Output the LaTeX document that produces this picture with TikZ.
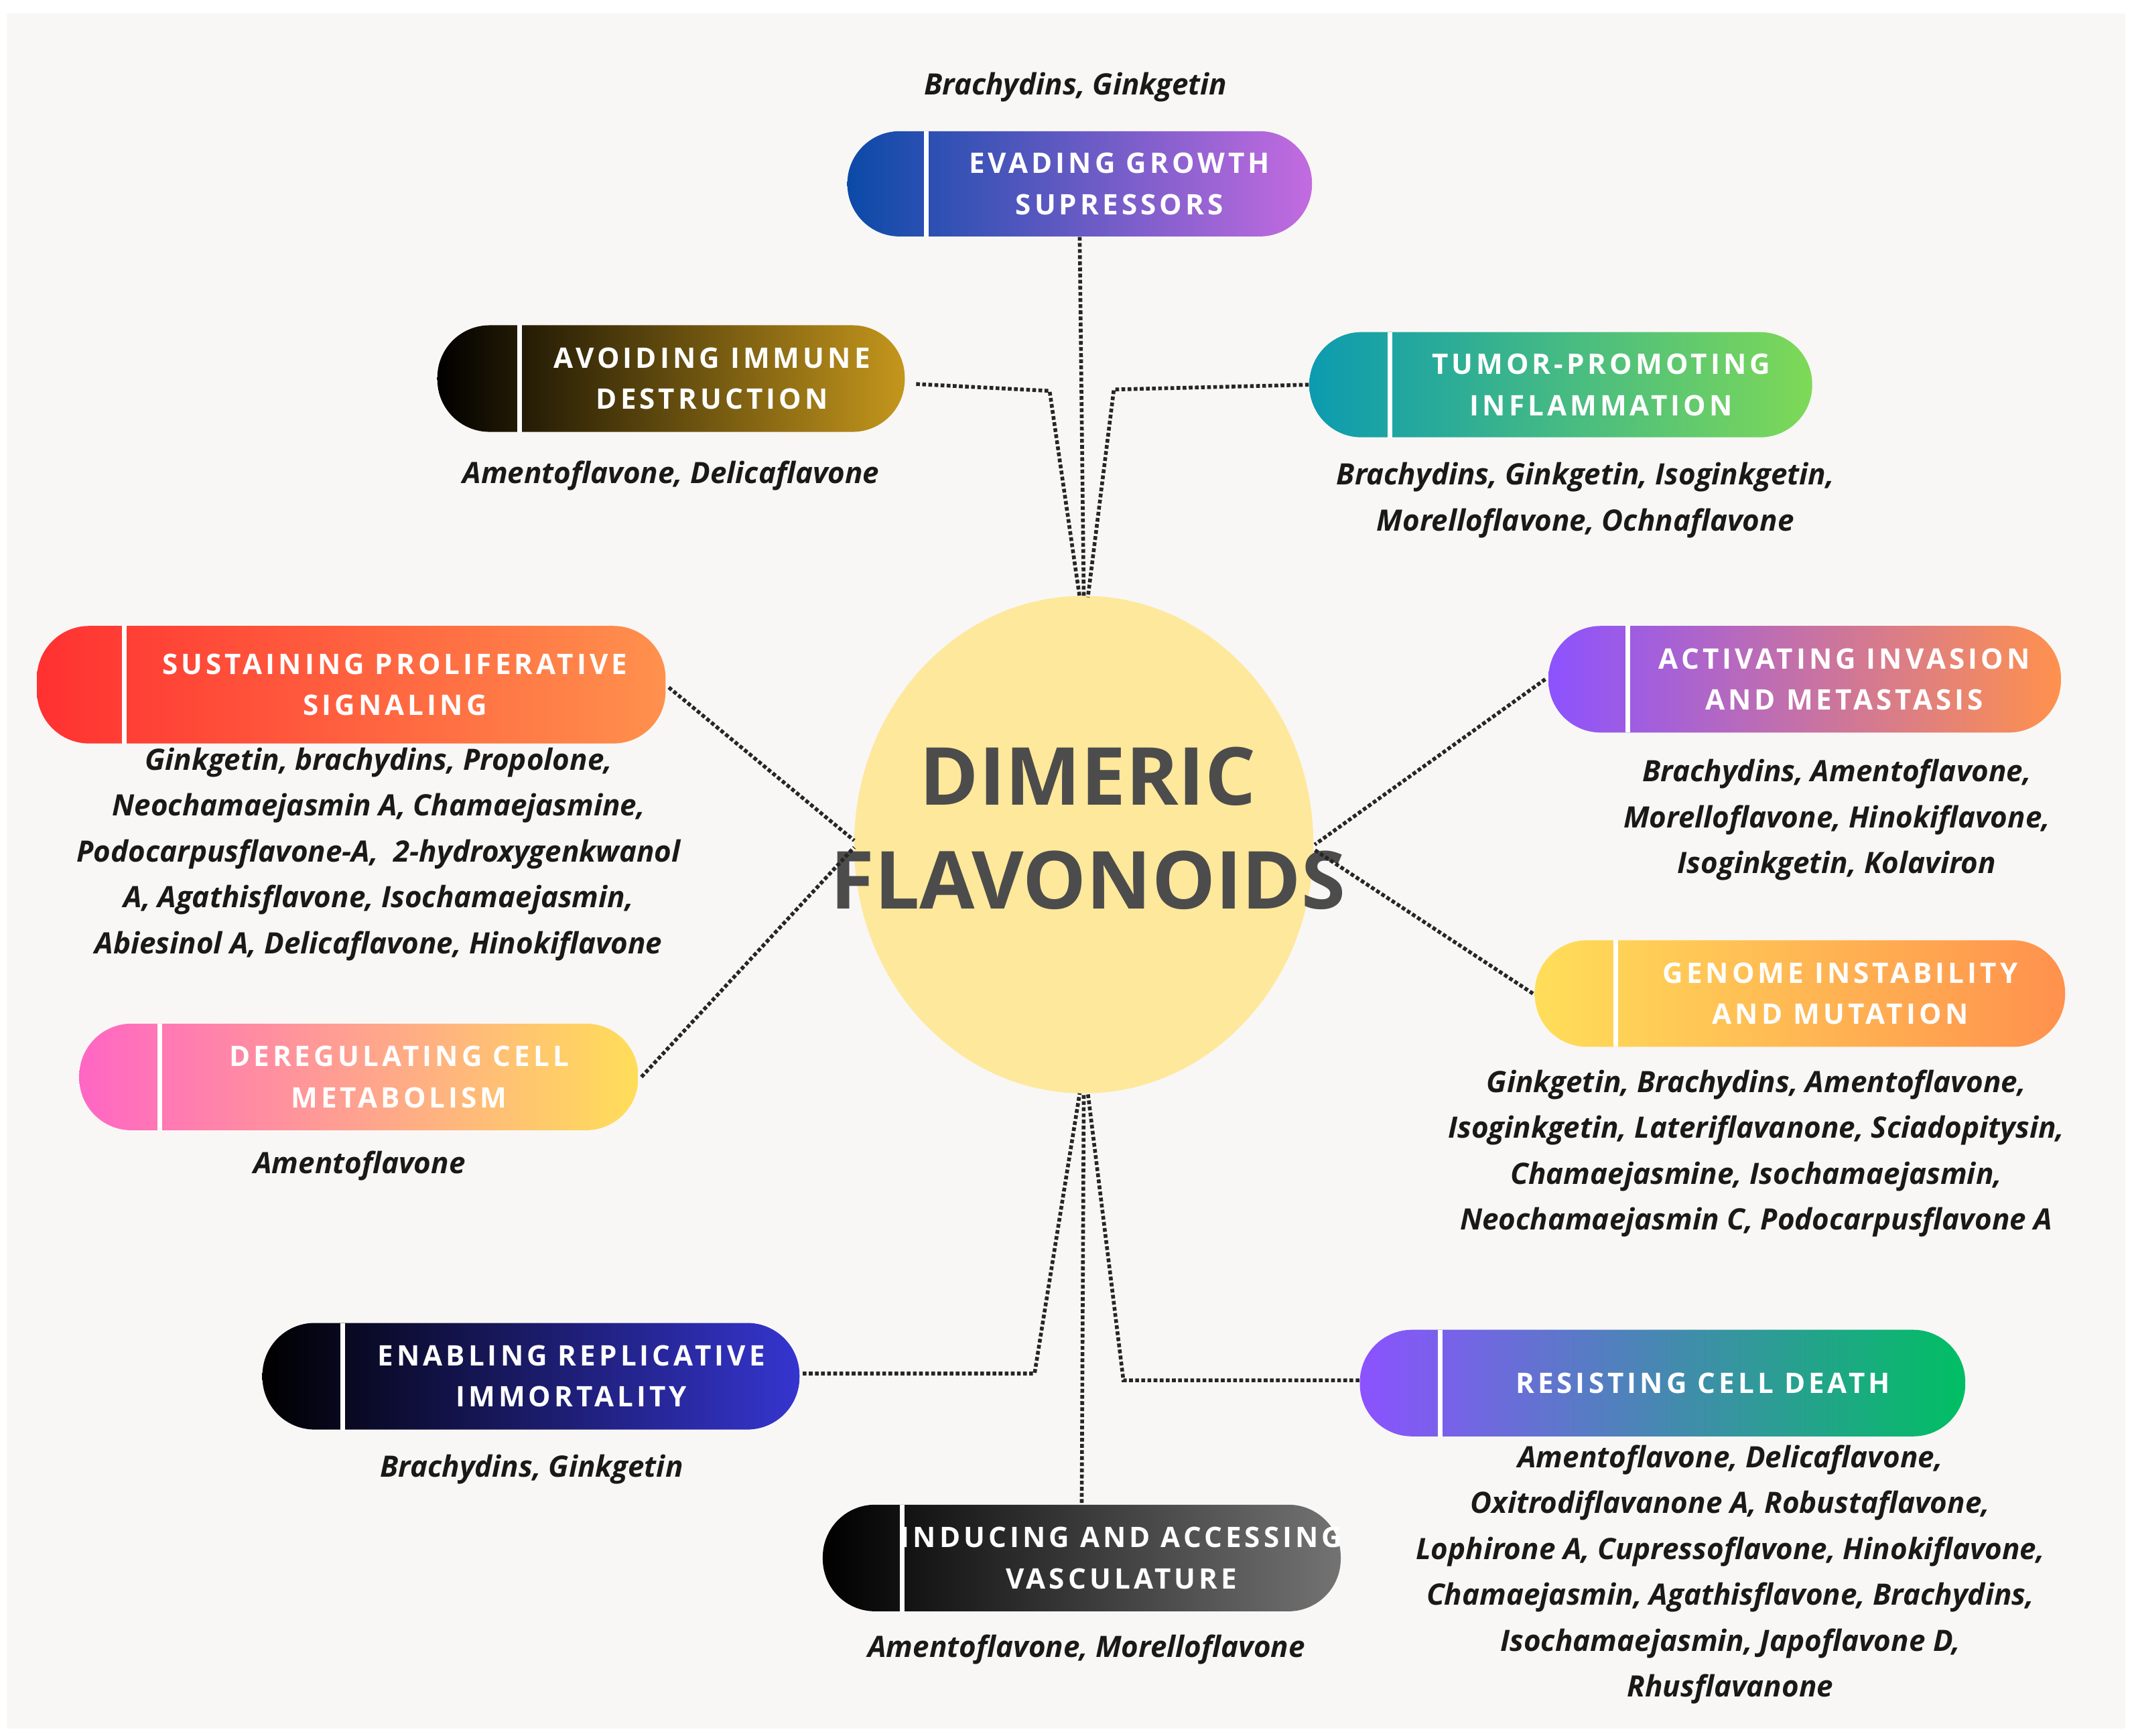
\documentclass[tikz,border=0pt]{standalone}
\usepackage{fontspec}
\setmainfont{Open Sans}
\newfontfamily\pillfont[LetterSpace=12]{Open Sans}
\usetikzlibrary{calc,shapes.geometric}
\definecolor{bg}{HTML}{F8F7F5}
\definecolor{circ}{HTML}{FEE89B}
\definecolor{cA}{HTML}{0B4AA8}\definecolor{cB}{HTML}{C36BE0}
\definecolor{cGold}{HTML}{C4961C}
\definecolor{cTeal}{HTML}{0C9BB0}\definecolor{cLgreen}{HTML}{7ED957}
\definecolor{cRed}{HTML}{FF3131}\definecolor{cOrange}{HTML}{FF914D}
\definecolor{cPurple}{HTML}{8C52FF}\definecolor{cYellow}{HTML}{FFDE59}
\definecolor{cPink}{HTML}{FF66C4}\definecolor{cBlue}{HTML}{3535D0}
\definecolor{cGreen}{HTML}{00BF63}\definecolor{cGrey}{HTML}{737373}
\tikzset{
 conn/.style={densely dotted,line width=1.6pt,black!85},
 lst/.style={font=\fontsize{12.5}{19.5}\selectfont\bfseries\itshape,align=center,text=black!90},
 ptxt/.style={font=\fontsize{12}{17.5}\selectfont\bfseries\pillfont,text=white,align=center},
}
\newcommand{\mypill}[9]{%
 \node[draw=none,rounded corners=0.78cm,left color=#7,right color=#8,minimum width={(#4-#2)*0.0204cm},minimum height={(#5-#3)*0.0204cm},inner sep=0] (#1) at ({(#2+#4)/2},{(#3+#5)/2}) {};
 \draw[white,line width=2pt] (#6,#3) -- (#6,#5);
 \node[ptxt] (#1t) at ({(#6+#4)/2},{(#3+#5)/2}) {#9};
}
\begin{document}
\begin{tikzpicture}[x=0.0204cm,y=-0.0204cm]
\useasboundingbox (0,0) rectangle (1560,1270);
\fill[white] (0,0) rectangle (1560,1270);
\fill[bg] (5,10) rectangle (1555,1265);
\node[ellipse,fill=circ,minimum width={336*0.0204cm},minimum height={364*0.0204cm},inner sep=0] (c) at (793,618) {};
\node[font=\fontsize{34}{44}\selectfont\bfseries,text=black!70,align=center] (ct) at (796,606) {DIMERIC\\FLAVONOIDS};
% pills
\mypill{ev}{620}{96}{960}{173}{678}{cA}{cB}{EVADING GROWTH\\SUPRESSORS}
\mypill{av}{320}{238}{662}{316}{380}{black}{cGold}{AVOIDING IMMUNE\\DESTRUCTION}
\mypill{tu}{958}{243}{1326}{320}{1017}{cTeal}{cLgreen}{TUMOR-PROMOTING\\INFLAMMATION}
\mypill{su}{27}{458}{487}{544}{91}{cRed}{cOrange}{SUSTAINING PROLIFERATIVE\\SIGNALING}
\mypill{ac}{1133}{458}{1508}{536}{1191}{cPurple}{cOrange}{ACTIVATING INVASION\\AND METASTASIS}
\mypill{ge}{1123}{688}{1511}{766}{1182}{cYellow}{cOrange}{GENOME INSTABILITY\\AND MUTATION}
\mypill{de}{58}{749}{467}{827}{117}{cPink}{cYellow}{DEREGULATING CELL\\METABOLISM}
\mypill{en}{192}{968}{585}{1046}{251}{black}{cBlue}{ENABLING REPLICATIVE\\IMMORTALITY}
\mypill{re}{995}{973}{1438}{1051}{1054}{cPurple}{cGreen}{RESISTING CELL DEATH}
\mypill{in}{602}{1101}{981}{1179}{660}{black}{cGrey}{INDUCING AND ACCESSING\\VASCULATURE}
% connector coordinates
\coordinate (ctop1) at (790,437); \coordinate (ctop2) at (793,437); \coordinate (ctop3) at (796,437);
\coordinate (cb1) at (790,800); \coordinate (cb2) at (793,800); \coordinate (cb3) at (796,800);
\coordinate (cl1) at (625,615); \coordinate (cl2) at (625,620);
\coordinate (cr1) at (962,618); \coordinate (cr2) at (962,622);
\draw[conn] (ev.south) -- (ctop2);
\draw[conn] ($(av.east)+(8,4)$) -- (768,286) -- (ctop1);
\draw[conn] (tu.west) -- (815,285) -- (ctop3);
\draw[conn] ($(su.east)+(2,2)$) -- (cl1);
\draw[conn] ($(de.east)+(2,0)$) -- (cl2);
\draw[conn] ($(ac.west)+(-2,0)$) -- (cr1);
\draw[conn] ($(ge.west)+(-1,0)$) -- (cr2);
\draw[conn] ($(en.east)+(2,-2)$) -- (757,1005) -- (cb1);
\draw[conn] ($(re.west)+(0,-2)$) -- (822,1010) -- (cb3);
\draw[conn] ($(in.north)+(0,-1)$) -- (cb2);
% lists
\node[lst] (l1) at (787,64) {Brachydins, Ginkgetin};
\node[lst] (l2) at (491,348) {Amentoflavone, Delicaflavone};
\node[lst] (l3) at (1160,366) {Brachydins, Ginkgetin, Isoginkgetin,\\Morelloflavone, Ochnaflavone};
\node[lst] (l4) at (277,625) {Ginkgetin, brachydins, Propolone,\\Neochamaejasmin A, Chamaejasmine,\\Podocarpusflavone-A,\ \ 2-hydroxygenkwanol\\A, Agathisflavone, Isochamaejasmin,\\Abiesinol A, Delicaflavone, Hinokiflavone};
\node[lst] (l5) at (1344,600) {Brachydins, Amentoflavone,\\Morelloflavone, Hinokiflavone,\\Isoginkgetin, Kolaviron};
\node[lst] (l6) at (1285,844) {Ginkgetin, Brachydins, Amentoflavone,\\Isoginkgetin, Lateriflavanone, Sciadopitysin,\\Chamaejasmine, Isochamaejasmin,\\Neochamaejasmin C, Podocarpusflavone A};
\node[lst] (l7) at (263,853) {Amentoflavone};
\node[lst] (l8) at (389,1075) {Brachydins, Ginkgetin};
\node[lst] (l9) at (1266,1152) {Amentoflavone, Delicaflavone,\\Oxitrodiflavanone A, Robustaflavone,\\Lophirone A, Cupressoflavone, Hinokiflavone,\\Chamaejasmin, Agathisflavone, Brachydins,\\Isochamaejasmin, Japoflavone D,\\Rhusflavanone};
\node[lst] (l10) at (795,1207) {Amentoflavone, Morelloflavone};
\end{tikzpicture}
\end{document}
